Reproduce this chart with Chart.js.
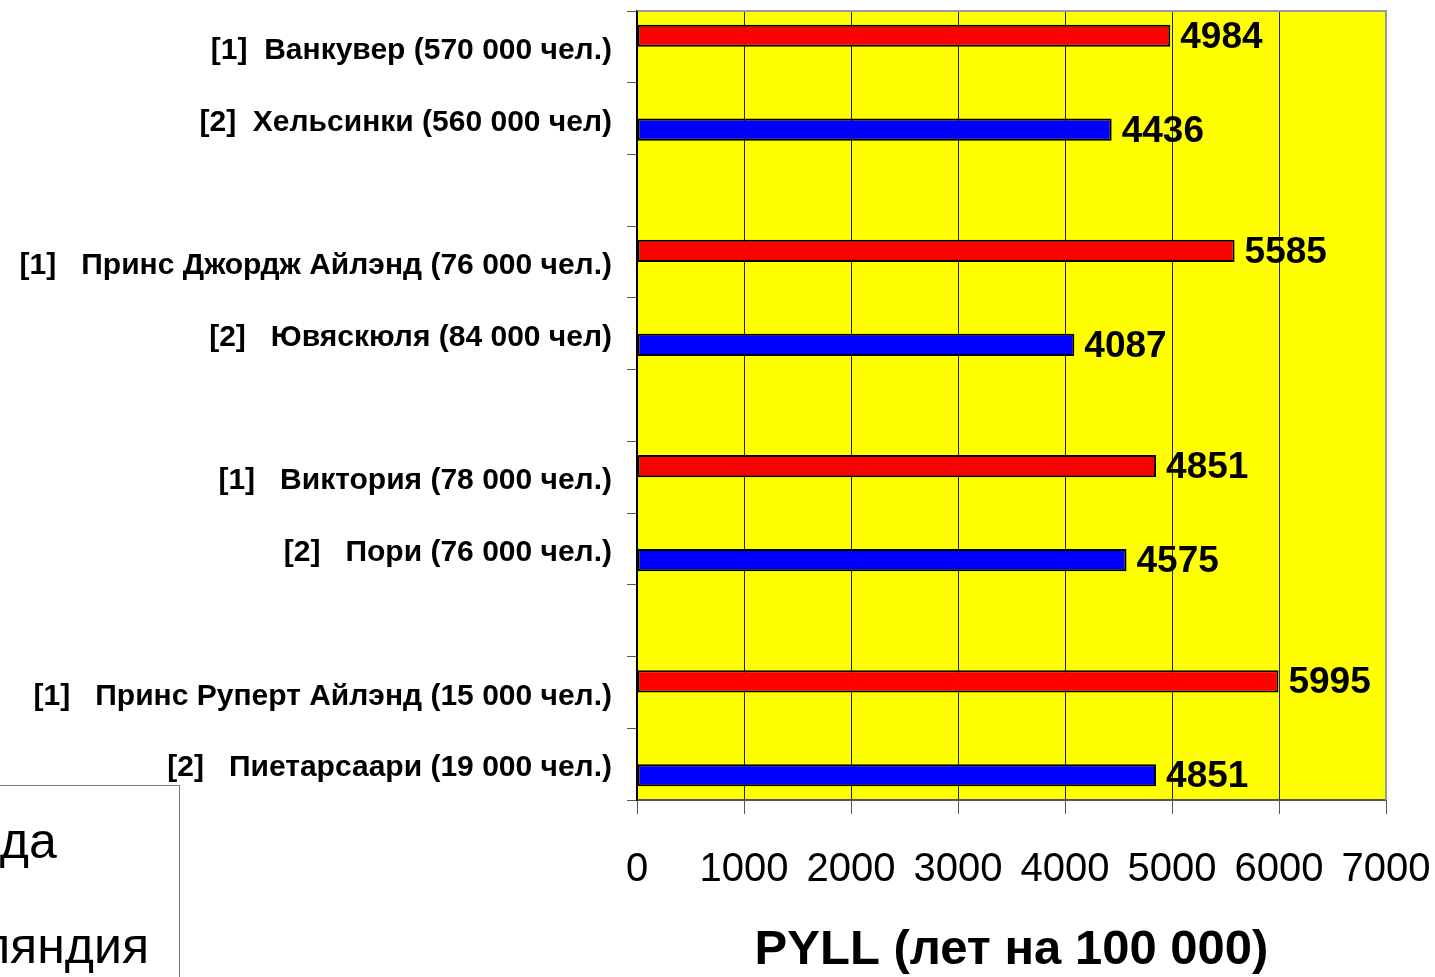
<!DOCTYPE html>
<html>
<head>
<meta charset="utf-8">
<script src="https://cdn.jsdelivr.net/npm/chart.js@4.4.0/dist/chart.umd.min.js"></script>
<style>
  html, body { margin: 0; padding: 0; background: #fff; overflow: hidden; }
  #wrap { position: relative; width: 1435px; height: 977px; }
  #myChart { display: block; }
  #legendBox {
    position: absolute; left: -20px; top: 785px; width: 198px; height: 260px;
    border: 1px solid #777; background: #fff;
  }
  .lgRow {
    position: absolute; white-space: nowrap; color: #000;
    font-family: "Liberation Sans", Arial, sans-serif; font-size: 50px; line-height: 52px; height: 52px;
  }
  .lgRow .sw { display: inline-block; width: 26px; height: 26px; border: 1px solid #000; margin-right: 16px; vertical-align: middle; }
</style>
</head>
<body>
<div id="wrap">
  <canvas id="myChart" width="1435" height="977"></canvas>
  <div id="legendBox"></div>
</div>
<script>
// categories (empty strings are the gaps between city pairs)
const cityLabels = [
  '[1]  Ванкувер (570 000 чел.)',
  '[2]  Хельсинки (560 000 чел)',
  '',
  '[1]   Принс Джордж Айлэнд (76 000 чел.)',
  '[2]   Ювяскюля (84 000 чел)',
  '',
  '[1]   Виктория (78 000 чел.)',
  '[2]   Пори (76 000 чел.)',
  '',
  '[1]   Принс Руперт Айлэнд (15 000 чел.)',
  '[2]   Пиетарсаари (19 000 чел.)'
];

// PYLL, years per 100 000
const canadaValues  = [4984, null, null, 5585, null, null, 4851, null, null, 5995, null];
const finlandValues = [null, 4436, null, null, 4087, null, null, 4575, null, null, 4851];

const seriesNames = ['Канада', 'Финляндия'];
const xTicks = [0, 1000, 2000, 3000, 4000, 5000, 6000, 7000];

const FONT = '"Liberation Sans", Arial, sans-serif';

// legend (cut off on the left like the original slide)
const legendColors = ['#FF0000', '#0000FF'];
const legendTops = [815, 920];
const wrap = document.getElementById('wrap');
const rows = seriesNames.map(function(name, i) {
  const row = document.createElement('div');
  row.className = 'lgRow';
  row.style.top = legendTops[i] + 'px';
  row.style.left = '0px';
  row.innerHTML = '<span class="sw" style="background:' + legendColors[i] + '"></span><span class="tx">' + name + '</span>';
  wrap.appendChild(row);
  return row;
});
// longest name should end at x = 149
let maxEnd = 0;
rows.forEach(function(r) {
  const t = r.querySelector('.tx').getBoundingClientRect();
  maxEnd = Math.max(maxEnd, t.right);
});
rows.forEach(function(r) { r.style.left = (149 - maxEnd) + 'px'; });

// yellow plot background + gray frame
const plotBackground = {
  id: 'plotBackground',
  beforeDraw(chart) {
    const a = chart.chartArea, c = chart.ctx;
    c.save();
    c.fillStyle = '#FFFF00';
    c.fillRect(a.left, a.top, a.right - a.left, a.bottom - a.top);
    c.restore();
  },
  afterDraw(chart) {
    const a = chart.chartArea, c = chart.ctx;
    c.save();
    c.strokeStyle = '#999';
    c.lineWidth = 2;
    c.beginPath();
    c.moveTo(a.left, a.top);
    c.lineTo(a.right, a.top);
    c.lineTo(a.right, a.bottom);
    c.stroke();
    c.strokeStyle = '#000';
    c.lineWidth = 1.5;
    c.beginPath();
    c.moveTo(a.left, a.top);
    c.lineTo(a.left, a.bottom);
    c.stroke();
    c.restore();
  }
};

// value labels after each bar
const valueLabels = {
  id: 'valueLabels',
  afterDatasetsDraw(chart) {
    const c = chart.ctx;
    c.save();
    c.font = 'bold 37px ' + FONT;
    c.fillStyle = '#000';
    c.textAlign = 'left';
    c.textBaseline = 'middle';
    chart.data.datasets.forEach(function(ds, di) {
      chart.getDatasetMeta(di).data.forEach(function(bar, i) {
        if (ds.data[i] == null) return;
        c.fillText(String(ds.data[i]), bar.x + 10, bar.y + 2);
      });
    });
    c.restore();
  }
};

const ctx = document.getElementById('myChart').getContext('2d');
new Chart(ctx, {
  type: 'bar',
  data: {
    labels: cityLabels,
    datasets: [
      {
        label: seriesNames[0],
        data: canadaValues,
        backgroundColor: '#FF0000',
        borderColor: '#000',
        borderWidth: 2,
        borderSkipped: false
      },
      {
        label: seriesNames[1],
        data: finlandValues,
        backgroundColor: '#0000FF',
        borderColor: '#000',
        borderWidth: 2,
        borderSkipped: false
      }
    ]
  },
  options: {
    indexAxis: 'y',
    responsive: false,
    animation: false,
    barPercentage: 1,
    categoryPercentage: 0.62,
    layout: { padding: { top: 11, right: 49, bottom: 0, left: 0 } },
    plugins: {
      legend: { display: false },
      tooltip: { enabled: false }
    },
    scales: {
      x: {
        min: 0,
        max: 7000,
        afterBuildTicks(scale) { scale.ticks = xTicks.map(v => ({ value: v })); },
        afterFit(scale) {
          scale.height = 177;
          scale.paddingLeft = 0;
          scale.paddingRight = 0;
        },
        grid: { color: '#222', lineWidth: 1, tickLength: 14, tickColor: '#555' },
        border: { color: '#555', width: 2 },
        ticks: {
          color: '#000',
          font: { family: FONT, size: 40 },
          padding: 32,
          maxRotation: 0,
          autoSkip: false,
          callback: function(v) { return String(v); }
        },
        title: {
          display: true,
          text: 'PYLL (лет на 100 000)',
          color: '#000',
          font: { family: FONT, size: 49, weight: 'bold' },
          padding: { top: 8, bottom: -3 }
        }
      },
      y: {
        afterFit(scale) {
          scale.width = 637;
          scale.paddingTop = 0;
          scale.paddingBottom = 0;
        },
        grid: { drawOnChartArea: false, tickLength: 10, tickColor: '#555', offset: true },
        border: { color: '#000', width: 1.5 },
        ticks: {
          color: '#000',
          font: { family: FONT, size: 30, weight: 'bold' },
          padding: 15,
          labelOffset: 4,
          autoSkip: false
        }
      }
    }
  },
  plugins: [plotBackground, valueLabels]
});
</script>
</body>
</html>
